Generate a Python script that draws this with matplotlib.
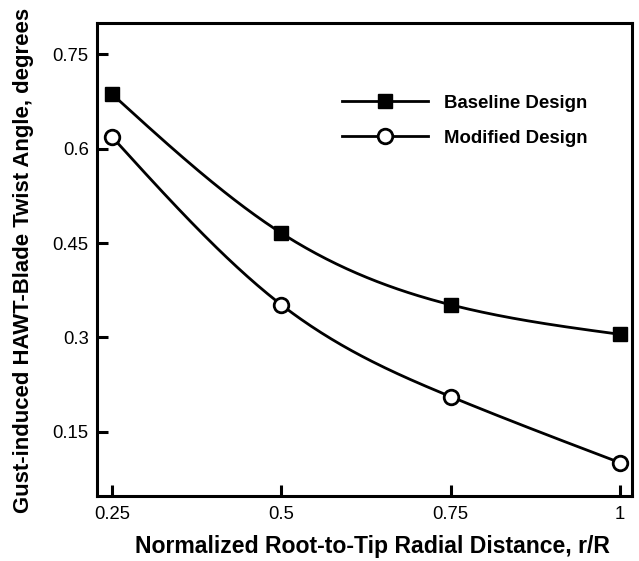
import matplotlib
matplotlib.use("Agg")
import matplotlib.pyplot as plt
import numpy as np
from matplotlib.lines import Line2D

plt.rcParams['font.family'] = ['Liberation Sans', 'DejaVu Sans']

# data
r_over_R = [0.25, 0.5, 0.75, 1.0]
baseline = [0.687, 0.466, 0.352, 0.305]
modified = [0.619, 0.352, 0.206, 0.101]

x_ticks = [0.25, 0.5, 0.75, 1.0]
x_ticklabels = ['0.25', '0.5', '0.75', '1']
y_ticks = [0.15, 0.3, 0.45, 0.6, 0.75]
y_ticklabels = ['0.15', '0.3', '0.45', '0.6', '0.75']


def natural_spline(x, y, n=200):
    # natural cubic spline, just for drawing the smooth curve
    x = np.asarray(x, float)
    y = np.asarray(y, float)
    k = len(x)
    h = np.diff(x)
    A = np.zeros((k, k))
    b = np.zeros(k)
    A[0, 0] = A[-1, -1] = 1
    for i in range(1, k - 1):
        A[i, i - 1] = h[i - 1]
        A[i, i] = 2 * (h[i - 1] + h[i])
        A[i, i + 1] = h[i]
        b[i] = 6 * ((y[i + 1] - y[i]) / h[i] - (y[i] - y[i - 1]) / h[i - 1])
    M = np.linalg.solve(A, b)
    xs = np.linspace(x[0], x[-1], n)
    ys = np.empty_like(xs)
    for j, xv in enumerate(xs):
        i = min(np.searchsorted(x, xv) - 1, k - 2)
        i = max(i, 0)
        t1 = x[i + 1] - xv
        t0 = xv - x[i]
        ys[j] = (M[i] * t1 ** 3 + M[i + 1] * t0 ** 3) / (6 * h[i]) \
            + (y[i] / h[i] - M[i] * h[i] / 6) * t1 \
            + (y[i + 1] / h[i] - M[i + 1] * h[i] / 6) * t0
    return xs, ys


fig = plt.figure(figsize=(6.39, 5.61), dpi=100)
ax = fig.add_axes([0.152, 0.116, 0.837, 0.843])

xs, ys = natural_spline(r_over_R, baseline)
ax.plot(xs, ys, color='black', lw=2)
ax.plot(r_over_R, baseline, ls='none', marker='s', ms=9.5, color='black')

xs, ys = natural_spline(r_over_R, modified)
ax.plot(xs, ys, color='black', lw=2)
ax.plot(r_over_R, modified, ls='none', marker='o', ms=10.5,
        mfc='white', mec='black', mew=2)

ax.set_xlim(0.228, 1.018)
ax.set_ylim(0.048, 0.8)
ax.set_xticks(x_ticks)
ax.set_xticklabels(x_ticklabels)
ax.set_yticks(y_ticks)
ax.set_yticklabels(y_ticklabels)
ax.tick_params(direction='in', length=8, width=2.2, labelsize=13.3)
ax.tick_params(axis='x', pad=7)
ax.tick_params(axis='y', pad=6)
for s in ax.spines.values():
    s.set_linewidth(2.2)

ax.set_xlabel('Normalized Root-to-Tip Radial Distance, r/R',
              fontsize=16.6, fontweight='bold')
ax.xaxis.set_label_coords(0.514, -0.082)
ax.set_ylabel('Gust-induced HAWT-Blade Twist Angle, degrees',
              fontsize=15.9, fontweight='bold')
ax.yaxis.set_label_coords(-0.118, 0.497)

handles = [
    Line2D([], [], color='black', lw=2, marker='s', ms=9.5),
    Line2D([], [], color='black', lw=2, marker='o', ms=10.5,
           mfc='white', mec='black', mew=2),
]
leg = ax.legend(handles, ['Baseline Design', 'Modified Design'],
                loc='upper left', bbox_to_anchor=(0.458, 0.848),
                borderpad=0, borderaxespad=0,
                frameon=False, handlelength=4.6, handletextpad=0.85,
                prop={'weight': 'bold', 'size': 13.4}, labelspacing=0.95)

fig.savefig('out.png', dpi=100)
